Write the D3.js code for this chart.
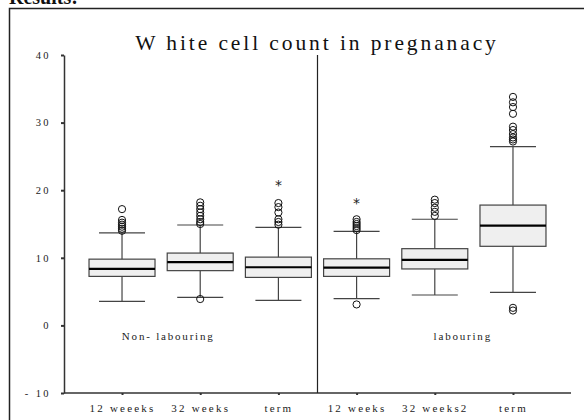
<!DOCTYPE html>
<html>
<head>
<meta charset="utf-8">
<script src="https://cdn.jsdelivr.net/npm/d3@7"></script>
<style>
  html, body { margin: 0; padding: 0; background: #fff; }
  svg { display: block; font-family: 'Liberation Serif', 'Times New Roman', serif; }
</style>
</head>
<body>
<div id="chart"></div>
<script>
// tick labels under each box (index based, "term" appears twice)
const categories = ['12 weeeks', '32 weeks', 'term', '12 weeks', '32 weeks2', 'term'];
const groupLabels = ['Non- labouring', 'labouring'];
const yTicks = [-10, 0, 10, 20, 30, 40];

// box statistics
const whiskerLow = [3.55, 4.15, 3.7, 3.95, 4.5, 4.9];
const q1 = [7.25, 8.1, 7.1, 7.25, 8.35, 11.7];
const medians = [8.35, 9.35, 8.6, 8.55, 9.7, 14.75];
const q3 = [9.8, 10.7, 10.1, 9.85, 11.35, 17.8];
const whiskerHigh = [13.7, 14.85, 14.5, 13.9, 15.7, 26.45];
const outliers = [
  [14.0, 14.3, 14.6, 14.9, 15.2, 15.6, 17.2],
  [3.9, 15.0, 15.3, 15.7, 16.2, 16.7, 17.2, 17.7, 18.2],
  [14.9, 15.3, 15.7, 16.7, 17.5, 18.1],
  [14.1, 14.4, 14.7, 15.0, 15.3, 15.7, 3.1],
  [16.2, 16.8, 17.4, 18.1, 18.6],
  [2.2, 2.6, 27.2, 27.5, 27.8, 28.3, 28.9, 29.4, 31.3, 32.3, 33.0, 33.8]
];
const extremes = [[], [], [20.7], [18.05], [], []];

const W = 584, H = 420;
const svg = d3.select('#chart').append('svg').attr('width', W).attr('height', H);

// page frame and clipped heading from the source document
svg.append('text').attr('x', 9).attr('y', 4)
  .attr('font-size', 20).attr('font-weight', 'bold').attr('fill', '#111')
  .text('Results:');
svg.append('rect').attr('x', 9.5).attr('y', 8.5).attr('width', 600).attr('height', 430)
  .attr('fill', 'none').attr('stroke', '#222').attr('stroke-width', 1.5);

const plotLeft = 64, plotRight = 571, plotTop = 55, plotBottom = 393;
const idx = d3.range(categories.length);

const x = d3.scalePoint().domain(idx).range([plotLeft, plotRight]).padding(0.742);
const y = d3.scaleLinear().domain([-10, 40]).range([plotBottom, plotTop]);
const boxW = 66, capW = 46;

svg.append('text').attr('x', 317).attr('y', 50)
  .attr('text-anchor', 'middle').attr('font-size', 21.5).attr('letter-spacing', 2.9)
  .attr('fill', '#111').text('W hite cell count in pregnanacy');

// axes
const yAxis = svg.append('g').attr('transform', `translate(${plotLeft},0)`)
  .call(d3.axisLeft(y).tickValues(yTicks).tickSize(3).tickSizeOuter(0).tickPadding(10)
    .tickFormat(d => d < 0 ? '- ' + Math.abs(d) : String(d)));
const xAxis = svg.append('g').attr('transform', `translate(0,${plotBottom})`)
  .call(d3.axisBottom(x).tickSize(2).tickSizeOuter(0).tickPadding(9)
    .tickFormat(i => categories[i]));
[yAxis, xAxis].forEach(a => {
  a.select('.domain').attr('stroke', '#333').attr('stroke-width', 1.5);
  a.selectAll('.tick line').attr('stroke', '#333').attr('stroke-width', 2);
  a.selectAll('text').attr('font-family', "'Liberation Serif', serif")
    .attr('font-size', 10.5).attr('letter-spacing', 2.4).attr('fill', '#222');
});
xAxis.selectAll('text').attr('font-size', 11).attr('letter-spacing', 2.2);
xAxis.select('.domain').attr('d', `M${plotLeft},0H${plotRight}`);

// group divider
const divX = (x(2) + x(3)) / 2;
svg.append('line').attr('x1', divX).attr('x2', divX).attr('y1', plotTop).attr('y2', plotBottom)
  .attr('stroke', '#222').attr('stroke-width', 1.2);

const g = svg.append('g');
idx.forEach(i => {
  const cx = x(i);
  const b = g.append('g');
  b.append('line').attr('x1', cx).attr('x2', cx).attr('y1', y(whiskerLow[i])).attr('y2', y(whiskerHigh[i]))
    .attr('stroke', '#444').attr('stroke-width', 1.2);
  [whiskerLow[i], whiskerHigh[i]].forEach(v => {
    b.append('line').attr('x1', cx - capW / 2).attr('x2', cx + capW / 2).attr('y1', y(v)).attr('y2', y(v))
      .attr('stroke', '#444').attr('stroke-width', 1.2);
  });
  b.append('rect').attr('x', cx - boxW / 2).attr('y', y(q3[i]))
    .attr('width', boxW).attr('height', y(q1[i]) - y(q3[i]))
    .attr('fill', '#efefef').attr('stroke', '#444').attr('stroke-width', 1.2);
  b.append('line').attr('x1', cx - boxW / 2).attr('x2', cx + boxW / 2)
    .attr('y1', y(medians[i])).attr('y2', y(medians[i]))
    .attr('stroke', '#000').attr('stroke-width', 2.2);
  b.selectAll('circle').data(outliers[i]).enter().append('circle')
    .attr('cx', cx).attr('cy', d => y(d)).attr('r', 3.6)
    .attr('fill', 'none').attr('stroke', '#111').attr('stroke-width', 1);
  b.selectAll('text.ext').data(extremes[i]).enter().append('text').attr('class', 'ext')
    .attr('x', cx).attr('y', d => y(d) + 5).attr('text-anchor', 'middle')
    .attr('font-size', 14).attr('font-family', 'DejaVu Sans, sans-serif').attr('fill', '#222').text('*');
});

// group labels
[[1, groupLabels[0]], [4, groupLabels[1]]].forEach(([i, t]) => {
  svg.append('text').attr('x', i === 1 ? x(1) - 32 : x(4) + 28).attr('y', 340)
    .attr('text-anchor', 'middle').attr('font-size', 11).attr('letter-spacing', 1.8)
    .attr('fill', '#222').text(t);
});
</script>
</body>
</html>
